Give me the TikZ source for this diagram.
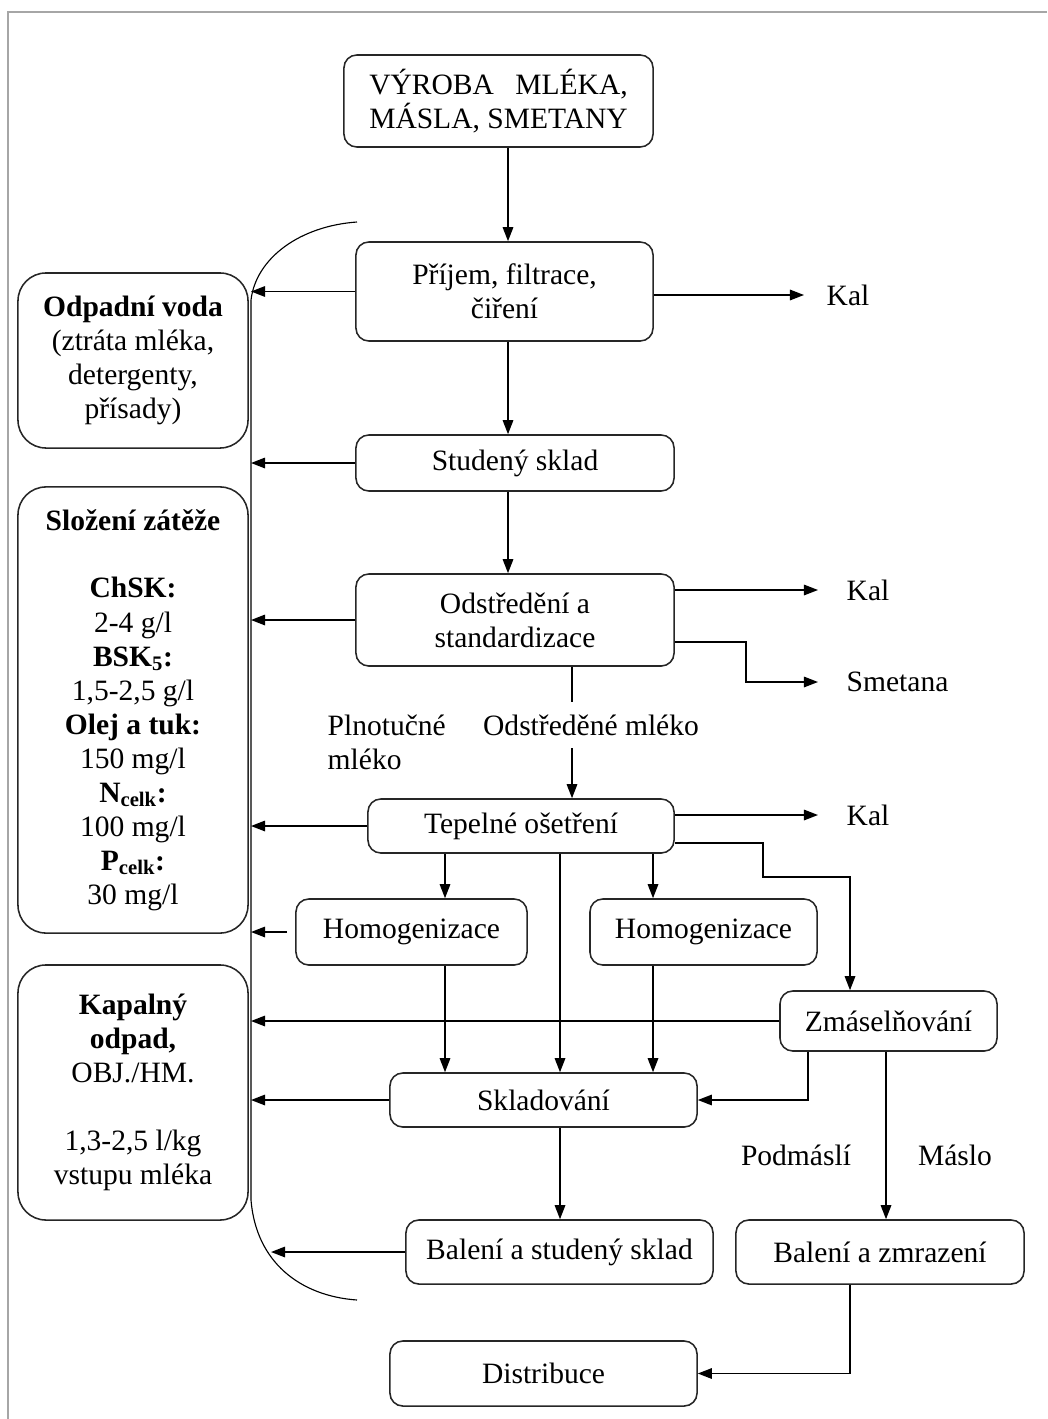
\documentclass[tikz,border=0pt]{standalone}
\usepackage{fontspec}
\setmainfont{Liberation Serif}
\usepackage{calc}
\usetikzlibrary{arrows.meta,positioning}

\begin{document}
\begin{tikzpicture}[
  x=0.025cm, y=-0.025cm,
  every node/.style={font=\fontsize{21}{24.2}\selectfont},
  proc/.style={rectangle, draw=black!85, line width=1.1pt, rounded corners=0.32cm,
               align=center, inner sep=2pt},
  waste/.style={rectangle, draw=black!85, line width=1.1pt, rounded corners=0.7cm,
                align=center, minimum width=5.75cm},
  lab/.style={inner sep=0pt, align=left},
  line width=1pt,
  >={Triangle[length=10pt,width=7.5pt]}
]
  \useasboundingbox (0,0) rectangle (1047,1419);

  % Frame
  \draw[gray!70, line width=1pt] (1047,12) -- (8,12) -- (8,1419);

  % Columns
  \coordinate (cV) at (508,0);
  \coordinate (cM) at (572,0);
  \coordinate (cA) at (445,0);
  \coordinate (cB) at (560,0);
  \coordinate (cC) at (653,0);
  \coordinate (cD) at (808,0);
  \coordinate (cE) at (886,0);
  \coordinate (cF) at (850,0);
  \coordinate (brk) at (251,0);
  \coordinate (brlow) at (271,1250);
  \coordinate (brtop) at (357,222);
  \coordinate (brbot) at (357,1300);

  % Process steps
  \node[proc, minimum width=7.725cm, minimum height=2.3cm] (vyroba) at (498.5,101)
    {\makebox[\widthof{MÁSLA, SMETANY}][s]{VÝROBA MLÉKA,}\\MÁSLA, SMETANY};
  \node[proc, minimum width=7.425cm, minimum height=2.475cm] (prijem) at (504.5,291.5)
    {Příjem, filtrace,\\čiření};
  \node[proc, minimum width=7.95cm, minimum height=1.4cm] (studeny) at (515,463) {Studený sklad};
  \node[proc, minimum width=7.95cm, minimum height=2.3cm] (odstred) at (515,620)
    {Odstředění a\\standardizace};
  \node[proc, minimum width=7.65cm, minimum height=1.35cm] (tepelne) at (521,826) {Tepelné ošetření};
  \node[proc, minimum width=5.775cm, minimum height=1.65cm] (homogA) at (411.5,932) {Homogenizace};
  \node[proc, minimum width=5.675cm, minimum height=1.65cm] (homogB) at (703.5,932) {Homogenizace};
  \node[proc, minimum width=5.425cm, minimum height=1.5cm] (zmasel) at (888.5,1021) {Zmáselňování};
  \node[proc, minimum width=7.675cm, minimum height=1.35cm] (sklad) at (543.5,1100) {Skladování};
  \node[proc, minimum width=7.675cm, minimum height=1.6cm] (balA) at (559.5,1252) {Balení a studený sklad};
  \node[proc, minimum width=7.2cm, minimum height=1.6cm] (balB) at (880,1252) {Balení a zmrazení};
  \node[proc, minimum width=7.675cm, minimum height=1.625cm] (distrib) at (543.5,1373.5) {Distribuce};

  % Waste boxes
  \node[waste, minimum height=4.375cm] (odpad) at (133,360.5)
    {\textbf{Odpadní voda}\\(ztráta mléka,\\detergenty,\\přísady)};
  \node[waste, minimum height=11.15cm] (slozeni) at (133,710)
    {\textbf{Složení zátěže}\\[24pt]\textbf{ChSK:}\\2-4 g/l\\\textbf{BSK\textsubscript{5}:}\\1,5-2,5 g/l\\
     \textbf{Olej a tuk:}\\150 mg/l\\\textbf{N\textsubscript{celk}:}\\100 mg/l\\
     \textbf{P\textsubscript{celk}:}\\30 mg/l};
  \node[waste, minimum height=6.375cm] (kapal) at (133,1092.5)
    {\textbf{Kapalný}\\\textbf{odpad,}\\OBJ./HM.\\[24pt]1,3-2,5 l/kg\\vstupu mléka};

  % Labels
  \node[lab, anchor=west] (kal1) at (826,295) {Kal};
  \node[lab, anchor=west] (kal2) at (846,590) {Kal};
  \node[lab, anchor=west] (smetana) at (846,682) {Smetana};
  \node[lab, anchor=west] (kal3) at (846,815) {Kal};
  \node[lab, anchor=west] (plnot) at (327,742) {Plnotučné\\mléko};
  \node[lab, inner ysep=0.3cm] (odstml) at (591,725) {Odstředěné mléko};
  \node[lab] (podmasli) at (796,1155) {Podmáslí};
  \node[lab] (maslo) at (955,1155) {Máslo};

  % Main line
  \draw[->] (vyroba.south -| cV) -- (cV |- prijem.north);
  \draw[->] (cV |- prijem.south) -- (cV |- studeny.north);
  \draw[->] (cV |- studeny.south) -- (cV |- odstred.north);
  \draw (cM |- odstred.south) -- (cM |- odstml.north);
  \draw[->] (cM |- odstml.south) -- (cM |- tepelne.north);

  % Branches
  \draw[->] (cA |- tepelne.south) -- (cA |- homogA.north);
  \draw[->] (cC |- tepelne.south) -- (cC |- homogB.north);
  \draw[->] (cB |- tepelne.south) -- (cB |- sklad.north);
  \draw[->] (cA |- homogA.south) -- (cA |- sklad.north);
  \draw[->] (cC |- homogB.south) -- (cC |- sklad.north);
  \draw[->] ([yshift=-0.425cm]tepelne.east) -- ++(88,0) -- ++(0,34) -| (cF |- zmasel.north);
  \draw[->] (cD |- zmasel.south) |- (sklad.east);
  \draw[->] (cE |- zmasel.south) -- (cE |- balB.north);
  \draw[->] (cB |- sklad.south) -- (cB |- balA.north);
  \draw[->] (cF |- balB.south) |- (distrib.east);

  % Outputs to the right
  \draw[->, shorten >=0.55cm] (prijem.east |- kal1.west) -- (kal1.west);
  \draw[->, shorten >=0.7cm] (odstred.east |- kal2.west) -- (kal2.west);
  \draw[->, shorten >=0.7cm] ([yshift=-0.55cm]odstred.east) -- ++(71,0) |- (smetana.west);
  \draw[->, shorten >=0.7cm] (tepelne.east |- kal3.west) -- (kal3.west);

  % Waste water to the left
  \draw[->] (prijem.west) -- (prijem.west -| brk);
  \draw[->] (studeny.west) -- (studeny.west -| brk);
  \draw[->] (odstred.west) -- (odstred.west -| brk);
  \draw[->] (tepelne.west) -- (tepelne.west -| brk);
  \draw[->, shorten <=0.2cm] (homogA.west) -- (homogA.west -| brk);
  \draw[->] (zmasel.west) -- (zmasel.west -| brk);
  \draw[->] (sklad.west) -- (sklad.west -| brk);
  \draw[->] (balA.west) -- (balA.west -| brlow);

  % Bracket
  \draw[line width=0.8pt] (brtop) .. controls (300,226) and (256,258) .. (251,300) -- (251,1200)
    .. controls (256,1262) and (300,1296) .. (brbot);
\end{tikzpicture}
\end{document}
